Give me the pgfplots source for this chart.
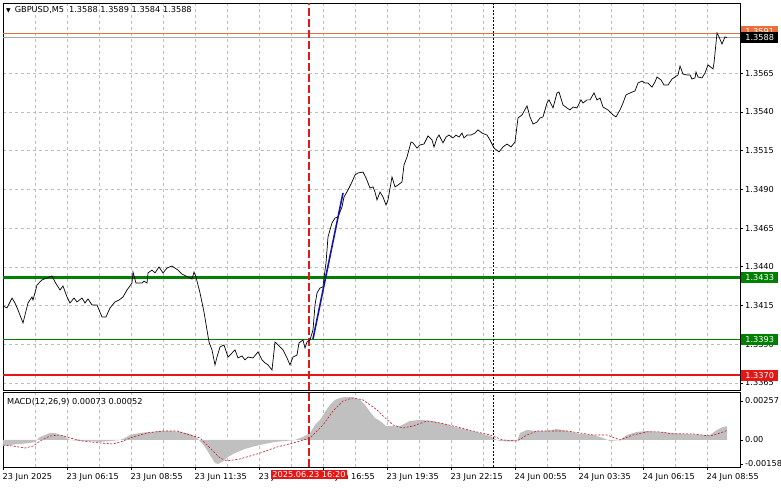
\documentclass[border=0pt]{standalone}
\usepackage{fontspec}
\setmainfont{DejaVu Sans}
\usepackage{pgfplots}
\pgfplotsset{compat=1.18}

\definecolor{mtgreen}{RGB}{0,128,0}
\definecolor{mtred}{RGB}{228,22,22}
\definecolor{mtorange}{RGB}{232,112,60}
\definecolor{histgray}{RGB}{192,192,192}
\definecolor{sigred}{RGB}{196,20,30}
\definecolor{gridgray}{RGB}{190,190,190}
\definecolor{cursor}{RGB}{225,25,25}
\definecolor{navy}{RGB}{20,20,170}

\pgfplotsset{
  mt/.style={
    scale only axis, width=737pt,
    xmin=0, xmax=368.5,
    clip=false,
    scaled y ticks=false,
    axis line style={black, line width=0.8pt},
    grid style={gridgray, line width=0.5pt, dash pattern=on 3pt off 3pt},
    tick style={black, line width=0.6pt},
    tick align=outside, major tick length=3pt, minor tick length=0pt,
    ytick pos=right, yticklabel pos=right,
    yticklabel style={anchor=west, inner sep=0pt, xshift=2pt},
  }
}

\begin{document}
\begin{tikzpicture}[font=\fontsize{8.2}{9}\selectfont]
\path[use as bounding box, fill=white] (0,0) rectangle (781pt,489pt);

% price panel
\begin{axis}[mt,
  at={(3pt,99pt)}, anchor=south west, height=387pt,
  ymin=1.33604, ymax=1.36104,
  xtick={16,32,...,352}, xticklabels={}, xtick style={draw=none},
  xmajorgrids, ymajorgrids,
  ytick={1.3365,1.339,1.3415,1.344,1.3465,1.349,1.3515,1.354,1.3565},
  yticklabels={1.3365,1.3390,1.3415,1.3440,1.3465,1.3490,1.3515,1.3540,1.3565},
]
\draw[mtorange, line width=0.7pt] (axis cs:0,1.3591) -- (axis cs:368.5,1.3591);
\draw[gray!70, line width=0.6pt] (axis cs:0,1.3588) -- (axis cs:368.5,1.3588);
\draw[mtgreen, line width=3.6pt] (axis cs:0,1.3433) -- (axis cs:368.5,1.3433);
\draw[mtgreen, line width=1.8pt] (axis cs:0,1.3393) -- (axis cs:368.5,1.3393);
\draw[mtred, line width=1.8pt] (axis cs:0,1.3370) -- (axis cs:368.5,1.3370);
\draw[cursor, line width=1.1pt, dash pattern=on 8pt off 3pt] (axis cs:153,1.33604) -- (axis cs:153,1.36104);
\draw[black, line width=0.7pt, dash pattern=on 2pt off 1.5pt] (axis cs:245,1.33604) -- (axis cs:245,1.36104);

\addplot[black, line width=0.7pt, sharp plot] coordinates {
(0,1.34147) (2,1.34134) (4.5,1.34198) (6,1.34166) (7.5,1.34121) (10,1.34037) (12.5,1.34166) (14.5,1.34205) (15,1.34185) (17,1.34282) (19.5,1.34315) (22,1.34328) (24.5,1.34341) (26,1.34302) (28.5,1.3425) (30,1.34276) (32,1.34205) (33.5,1.34166) (35.5,1.34198) (37,1.34173) (39.5,1.34198) (41,1.34166) (42.5,1.34192) (44.5,1.34153) (47,1.34153) (49.5,1.34076) (51.5,1.34076) (53.5,1.34134) (56,1.34173) (58,1.34185) (60,1.34205) (62,1.3425) (64.5,1.34295) (65,1.34366) (66.5,1.34295) (69.5,1.34295) (70.5,1.34308) (72,1.34295) (72.5,1.3436) (74.5,1.34379) (76,1.3436) (78,1.34399) (80,1.3436) (82,1.34392) (84.5,1.34405) (86,1.34392) (87.5,1.34379) (89.5,1.34353) (94.5,1.34321) (95.5,1.34366) (96.5,1.34334) (98.5,1.34231) (100.5,1.34108) (102,1.33992) (103,1.33914) (104.5,1.33863) (106,1.33766) (107,1.33817) (108.5,1.33882) (110.5,1.33895) (112.5,1.33817) (114.5,1.33843) (116,1.33863) (117.5,1.33811) (119.5,1.33824) (121,1.33798) (122.5,1.33817) (125,1.33811) (127.5,1.3385) (129.5,1.33798) (131,1.33779) (132.5,1.33766) (134.5,1.33733) (136,1.33914) (137.5,1.33895) (140,1.33863) (142,1.33811) (143.5,1.33766) (145,1.33817) (147,1.3383) (148,1.33908) (150,1.33927) (151,1.33875) (152,1.33914) (153.5,1.33927) (155,1.33992) (156,1.34153) (157,1.34231) (158.5,1.34263) (160,1.3427) (160.5,1.34328) (161.5,1.34425) (162,1.34509) (162.5,1.34593) (164.5,1.34683) (166,1.34715) (167.5,1.34722) (169.5,1.34786) (170.5,1.34851) (172.5,1.34896) (174.5,1.34948) (176,1.34993) (177.5,1.35006) (180,1.35012) (181.5,1.34974) (183.5,1.34909) (185,1.34916) (186,1.34883) (187,1.34832) (188.5,1.34883) (190,1.34851) (191.5,1.34799) (192.5,1.34832) (194.5,1.3498) (196,1.34916) (197.5,1.34928) (199.5,1.34948) (200.5,1.35058) (202,1.35109) (204,1.35206) (205,1.352) (207,1.35167) (208.5,1.35187) (210.5,1.35193) (212.5,1.35245) (214.5,1.35219) (215.5,1.35174) (217,1.35232) (218,1.35251) (220,1.352) (221.5,1.35238) (223,1.35251) (225,1.35232) (226.5,1.35251) (228,1.35238) (229.5,1.35264) (230.5,1.35232) (232,1.35251) (234,1.35251) (236,1.35264) (237.5,1.35284) (239.5,1.35264) (242,1.35251) (243.5,1.35219) (245.5,1.35167) (248,1.35142) (250,1.35174) (252,1.35193) (254,1.35174) (256,1.35206) (257.5,1.35361) (259.5,1.35381) (262,1.35439) (263.5,1.35368) (265,1.35322) (267,1.35335) (268.5,1.35361) (270,1.35368) (272,1.35458) (273,1.35478) (275,1.35426) (277,1.35523) (278,1.35529) (280,1.35445) (282,1.35426) (283.5,1.35413) (285,1.35432) (287,1.35426) (289,1.35478) (290,1.35458) (292,1.35478) (293.5,1.35478) (295.5,1.35523) (297,1.35478) (298.5,1.3549) (300,1.35432) (302.5,1.35413) (305,1.35381) (306.5,1.35368) (308.5,1.35413) (310,1.35458) (311.5,1.3551) (313.5,1.35523) (316,1.35536) (317.5,1.35587) (319.5,1.356) (321,1.35587) (322.5,1.35587) (324.5,1.35561) (326,1.35594) (327,1.35626) (329,1.35607) (330.5,1.35574) (332.5,1.35574) (334.5,1.35613) (336,1.35626) (337.5,1.35639) (338.5,1.35697) (340,1.35645) (342,1.35639) (343.5,1.35639) (344.5,1.35613) (346,1.3562) (346.5,1.35658) (347.5,1.35626) (349.5,1.3562) (351,1.35652) (352.5,1.35704) (355,1.35678) (355.5,1.35717) (357,1.3591) (358,1.35885) (359.5,1.35839) (361,1.35885) (362,1.3588)
};
\addplot[navy, line width=1.6pt] coordinates {(155,1.33934) (170,1.34877)};

\coordinate (b3591) at (axis cs:368.5,1.3591);
\coordinate (b3588) at (axis cs:368.5,1.3588);
\coordinate (b3433) at (axis cs:368.5,1.3433);
\coordinate (b3393) at (axis cs:368.5,1.3393);
\coordinate (b3370) at (axis cs:368.5,1.3370);
\end{axis}

% MACD panel
\begin{axis}[mt,
  at={(3pt,22pt)}, anchor=south west, height=75pt,
  ymin=-0.00178, ymax=0.00316,
  ytick={-0.00158,0,0.00257}, yticklabels={-0.00158,0.00,0.00257},
  xtick={0,32,...,352}, minor xtick={16,48,...,336},
  xtick pos=bottom, xmajorgrids, xminorgrids,
  xticklabels={23 Jun 2025,23 Jun 06:15,23 Jun 08:55,23 Jun 11:35,23 Jun 14:15,23 Jun 16:55,23 Jun 19:35,23 Jun 22:15,24 Jun 00:55,24 Jun 03:35,24 Jun 06:15,24 Jun 08:55},
  xticklabel style={anchor=north west, inner sep=0pt, yshift=-3pt, xshift=-0.5pt},
]
\addplot[draw=none, fill=histgray] coordinates {
(0,-0.0004) (3.5,-0.00033) (8.5,-0.00026) (13.5,-0.0002) (16,-0.00013) (17,0) (18.5,0.0002) (21,0.00033) (23.5,0.00046) (26,0.00046) (28.5,0.00033) (31,0.0002) (33.5,0) (38.5,-0.00007) (43.5,-0.00007) (48.5,-0.00013) (53.5,-0.00007) (58.5,0) (61,0.00013) (63.5,0.00033) (68.5,0.00046) (73.5,0.00053) (78.5,0.00059) (83.5,0.00059) (88.5,0.00053) (93.5,0.0004) (97,0.00013) (98.5,-0.00007) (101,-0.00046) (103.5,-0.00099) (106,-0.00152) (107.5,-0.00158) (109.5,-0.00145) (112.5,-0.00112) (116,-0.00086) (121,-0.00059) (126,-0.0004) (131,-0.00026) (136,-0.00013) (141,-0.00007) (146,0) (150,0.0002) (153.5,0.00046) (156,0.00099) (158.5,0.00132) (161,0.00185) (163.5,0.00231) (166,0.00264) (168.5,0.00277) (171,0.00283) (173.5,0.00283) (176,0.00277) (178.5,0.00264) (181,0.00231) (183.5,0.00185) (186,0.00145) (188.5,0.00125) (191.5,0.00092) (198.5,0.00092) (203.5,0.00125) (208.5,0.00132) (215,0.00125) (222,0.00099) (232,0.00066) (238.5,0.00046) (243.5,0.00026) (247,0) (248.5,-0.00007) (253.5,-0.0001) (257,-0.00007) (258.5,0.00046) (262,0.00066) (267,0.00059) (272,0.00059) (277,0.00072) (282,0.00059) (288.5,0.0004) (295,0.00033) (300,0.00013) (303.5,-0.00007) (308.5,0) (312,0.00033) (317,0.00053) (322,0.00059) (328.5,0.00053) (335,0.00046) (342,0.0004) (348.5,0.00033) (353.5,0.00033) (357,0.00066) (360,0.00086) (362,0.0009)
} \closedcycle;
\addplot[sigred, line width=0.6pt, dash pattern=on 2pt off 1.6pt] coordinates {
(0,-0.00033) (5,-0.0004) (11,-0.00053) (15,-0.0004) (18.5,-0.00007) (23.5,0.00026) (28.5,0.00033) (33.5,0.00013) (40,-0.00007) (48.5,-0.0002) (55,-0.00026) (60,-0.00007) (65,0.0002) (72,0.00046) (80,0.00059) (87,0.00059) (93.5,0.00033) (98.5,0.00013) (103.5,-0.00053) (108.5,-0.00119) (112,-0.00138) (118.5,-0.00125) (128.5,-0.00086) (137,-0.00046) (145,-0.0002) (153.5,0.00013) (160,0.00099) (165,0.00191) (170,0.00257) (175,0.00277) (180,0.00264) (187,0.00198) (190,0.00158) (195,0.00099) (200,0.00079) (205,0.00092) (212,0.00125) (218.5,0.00112) (227,0.00086) (235,0.00059) (243.5,0.00033) (250,0) (257,-0.00007) (262,0.00033) (267,0.00059) (275,0.00059) (282,0.00059) (288.5,0.00046) (295,0.00033) (302,0.00033) (308.5,0) (315,0.00033) (322,0.00053) (328.5,0.00053) (335,0.0004) (345,0.0004) (353.5,0.00026) (358.5,0.00046) (362,0.00062)
};
\draw[cursor, line width=1.1pt, dash pattern=on 8pt off 3pt] (axis cs:153,-0.00178) -- (axis cs:153,0.00316);
\draw[black, line width=0.7pt, dash pattern=on 2pt off 1.5pt] (axis cs:245,-0.00178) -- (axis cs:245,0.00316);
\coordinate (cur) at (axis cs:153,-0.00178);
\end{axis}

% labels drawn on top
\node[anchor=west, inner sep=0pt] at (6pt,479pt) {{\fontsize{6}{6}\selectfont ▼}\hspace{4pt}GBPUSD,M5\hspace{5pt}1.3588 1.3589 1.3584 1.3588};
\node[anchor=west, inner sep=0pt] at (7pt,87pt) {MACD(12,26,9) 0.00073 0.00052};

\tikzset{lvl/.style={anchor=west, inner sep=0pt, minimum width=37pt, minimum height=11pt, text=white}}
\node[lvl, fill=mtorange, yshift=1.5pt] at ([xshift=1pt]b3591) {1.3591};
\node[lvl, fill=black] at ([xshift=1pt]b3588) {1.3588};
\node[lvl, fill=mtgreen] at ([xshift=1pt]b3433) {1.3433};
\node[lvl, fill=mtgreen] at ([xshift=1pt]b3393) {1.3393};
\node[lvl, fill=mtred] at ([xshift=1pt]b3370) {1.3370};
\node[anchor=north, fill=mtred, text=white, inner sep=1.5pt, yshift=-3pt] at (cur) {2025.06.23 16:20};
\end{tikzpicture}
\end{document}
